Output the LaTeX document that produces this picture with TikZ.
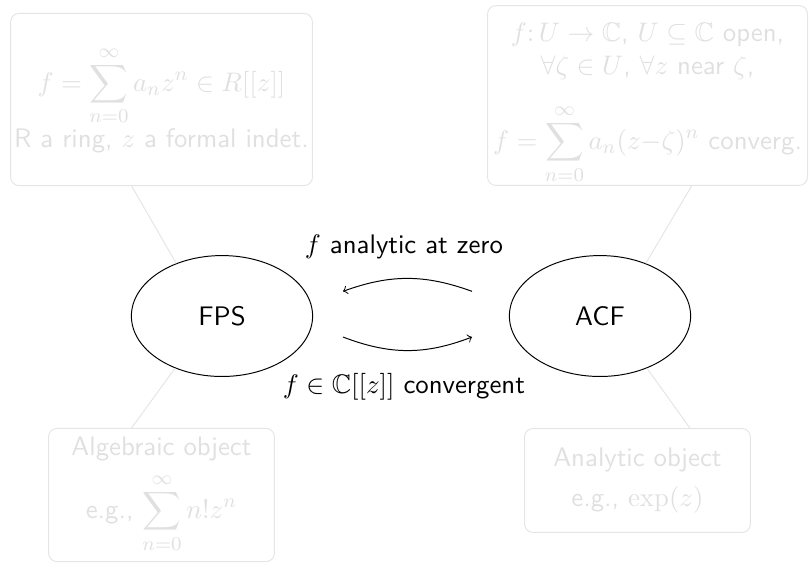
\documentclass[tikz,border=0pt]{standalone}
\usepackage{amssymb}
\usetikzlibrary{shapes.geometric}
\renewcommand{\familydefault}{\sfdefault}

\begin{document}
\begin{tikzpicture}[font=\fontsize{10.95}{13.6}\selectfont]
	\tikzstyle{e} = [draw, shape=ellipse, minimum width=2.6cm, minimum height=1.735cm, inner sep=0pt]
	\tikzstyle{r} = [draw=black!10, text=black!12, shape=rectangle, rounded corners=0.12cm, align=center, inner sep=0pt]
	\tikzstyle{faint} = [draw=black!10]
	\useasboundingbox (0,0) rectangle (11.621,-8.077);
	\node[e] (fps) at (3.185,-4.534) {FPS};
	\node[e] (acf) at (8.608,-4.534) {ACF};
	\node[r, minimum width=4.33cm, minimum height=2.47cm] (tl) at (2.317,-1.428)
		{$\displaystyle f=\sum_{n=0}^{\infty}a_nz^n\in R[[z]]$\\
		R a ring, $z$ a formal indet.};
	\node[r, minimum width=4.59cm, minimum height=2.58cm] (tr) at (9.290,-1.370)
		{\rule{0pt}{14pt}$f\colon U\to\mathbb{C}$, $U\subseteq\mathbb{C}$ open,\\
		$\forall\zeta\in U$, $\forall z$ near $\zeta$,\\[9pt]
		$\displaystyle f=\sum_{n=0}^{\infty}a_n(z{-}\zeta)^n$ converg.};
	\node[r, minimum width=3.24cm, minimum height=1.91cm] (bl) at (2.317,-7.102)
		{Algebraic object\\[4pt]
		e.g., $\displaystyle\sum_{n=0}^{\infty}n!z^n$};
	\node[r, minimum width=3.24cm, minimum height=1.49cm] (br) at (9.146,-6.894)
		{Analytic object\\[3pt]
		e.g., $\exp(z)$};
	\draw[faint] (fps.131) -- (tl.-109);
	\draw[faint] (acf.49) -- (tr.-64);
	\draw[faint] (fps.228) -- (bl.114);
	\draw[faint] (acf.312) -- (br.45);
	\coordinate (up1) at (6.772,-4.18);
	\coordinate (up2) at (4.921,-4.18);
	\coordinate (lo1) at (4.921,-4.835);
	\coordinate (lo2) at (6.772,-4.835);
	\draw[->] (up1) to[bend right=20] (up2);
	\draw[->] (lo1) to[bend right=21] (lo2);
	\node (analytic) at (5.796,-3.544) {$f$ analytic at zero};
	\node (convergent) at (5.796,-5.553) {$f\in\mathbb{C}[[z]]$ convergent};
\end{tikzpicture}
\end{document}
